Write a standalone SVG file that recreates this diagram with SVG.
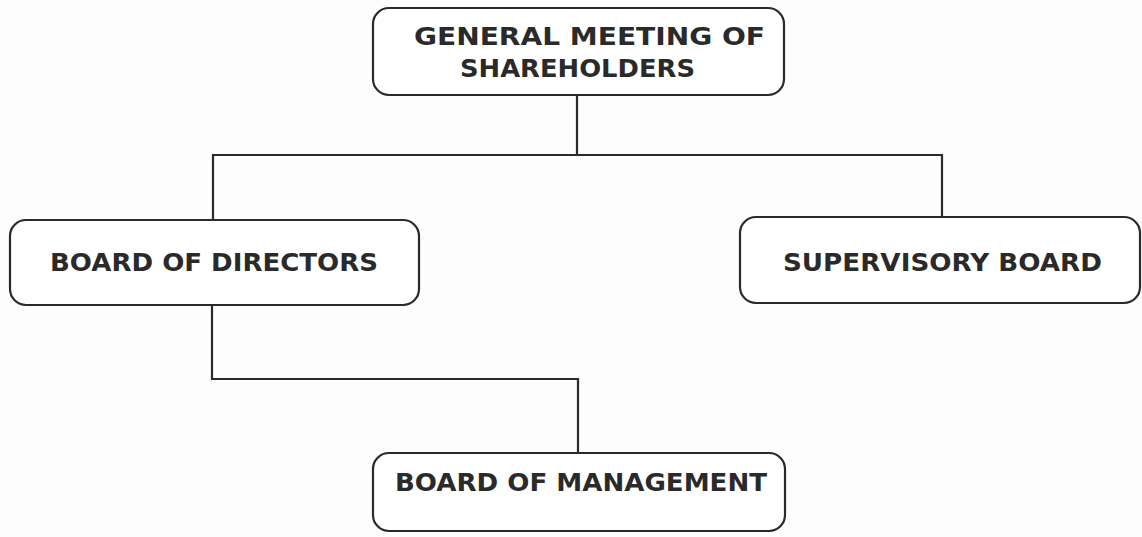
<svg xmlns="http://www.w3.org/2000/svg" width="1142" height="537" viewBox="0 0 1142 537">
<style>
.box{fill:#ffffff;stroke:#2a2a2a;stroke-width:2.2}
.lbl{font-family:"DejaVu Sans",Verdana,sans-serif;font-weight:bold;font-size:24.5px;fill:#2a2a2a}
.conn{fill:none;stroke:#2a2a2a;stroke-width:2.2}
</style>
<rect width="1142" height="537" fill="#fdfdfd"/>
<g id="connectors">
<path class="conn" d="M577 95 V155 M213 220 V155 H942 V217"/>
<path class="conn" d="M212 305 V379 H578 V453"/>
</g>
<g id="general-meeting">
<rect class="box" x="373" y="8" width="411" height="87" rx="16"/>
<text class="lbl" x="414" y="45" textLength="351" lengthAdjust="spacingAndGlyphs">GENERAL MEETING OF</text>
<text class="lbl" x="460" y="77" textLength="235" lengthAdjust="spacingAndGlyphs">SHAREHOLDERS</text>
</g>
<g id="board-of-directors">
<rect class="box" x="10" y="220" width="409" height="85" rx="16"/>
<text class="lbl" x="50" y="271" textLength="328" lengthAdjust="spacingAndGlyphs">BOARD OF DIRECTORS</text>
</g>
<g id="supervisory-board">
<rect class="box" x="740" y="217" width="400" height="86" rx="16"/>
<text class="lbl" x="783" y="271" textLength="319" lengthAdjust="spacingAndGlyphs">SUPERVISORY BOARD</text>
</g>
<g id="board-of-management">
<rect class="box" x="373" y="453" width="412" height="78" rx="16"/>
<text class="lbl" x="395" y="491" textLength="372" lengthAdjust="spacingAndGlyphs">BOARD OF MANAGEMENT</text>
</g>
</svg>
